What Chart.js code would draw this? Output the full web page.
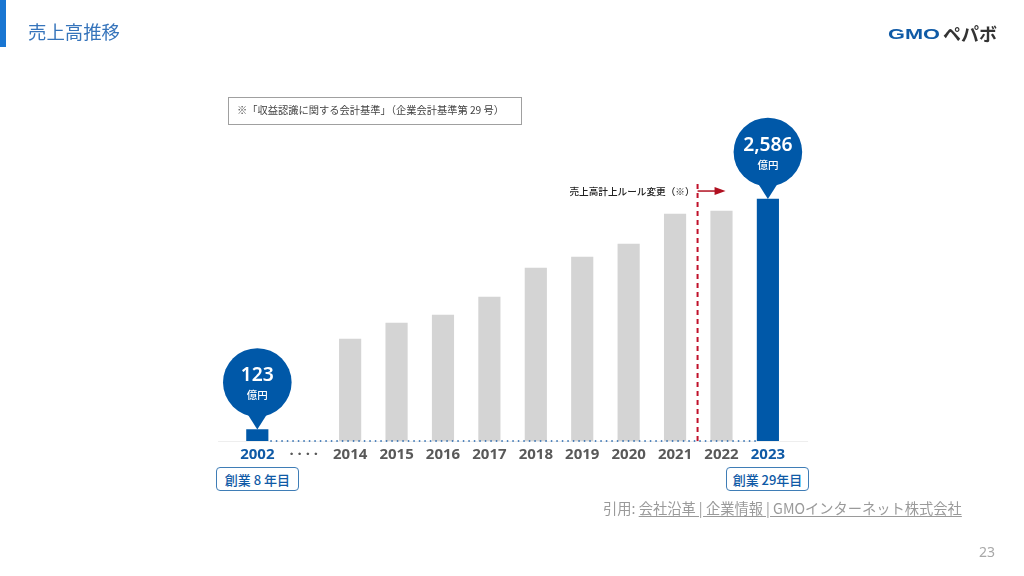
<!DOCTYPE html>
<html lang="ja"><head><meta charset="utf-8">
<script src="https://cdn.jsdelivr.net/npm/chart.js@4"></script>
<style>
html,body{margin:0;padding:0;background:#fff;width:1024px;height:576px;overflow:hidden;font-family:"Noto Sans CJK JP","Noto Sans",sans-serif}
canvas{position:absolute;left:0;top:0}
.t{position:absolute;white-space:nowrap;line-height:1}
#acc{position:absolute;left:0;top:0;width:6px;height:47px;background:#1976d2}
#title{left:28px;top:22px;font-size:18.4px;color:#3674bb;font-weight:400}
#logoA{left:888px;top:26px;font-size:15px;font-weight:700;color:#0f5aa6;font-family:"Liberation Sans";transform-origin:left top;transform:scaleX(1.45)}
#logoB{left:943px;top:24px;font-size:18px;font-weight:700;color:#333;transform-origin:left top}
#note{position:absolute;left:228px;top:97px;width:292px;height:26px;border:1px solid #a0a0a0}
#noteT{left:237px;top:105px;font-size:10.25px;color:#444}
.yr{position:absolute;height:22px;width:81px;border:1.5px solid #3f7db6;border-radius:4px;top:467px;color:#0f5aa6;font-size:13px;line-height:23px;text-align:center;background:#fff;font-weight:500}
#cite{left:603px;top:501px;font-size:14.25px;color:#9a9a9a}
#cite u{text-decoration:underline;text-underline-offset:2px}
#pg{left:979px;top:545px;font-size:14px;color:#a8a8a8;font-family:"Noto Sans"}
</style></head><body>
<canvas id="c" width="1024" height="576" style="width:1024px;height:576px"></canvas>
<div id="acc"></div>
<div class="t" id="title">売上高推移</div>
<div class="t" id="logoA">GMO</div><div class="t" id="logoB">ペパボ</div>
<div id="note"></div>
<div class="t" id="noteT">※「収益認識に関する会計基準」（企業会計基準第 29 号）</div>
<div class="yr" style="left:216px">創業 8 年目</div>
<div class="yr" style="left:726px">創業 29年目</div>
<div class="t" id="cite">引用: <u>会社沿革 | 企業情報 | GMOインターネット株式会社</u></div>
<div class="t" id="pg">23</div>
<script>
const categories = ['2002','· · · ·','2014','2015','2016','2017','2018','2019','2020','2021','2022','2023'];
const sales = [123,null,1090,1261,1346,1539,1849,1966,2105,2426,2458,2586];
const barColors = ['#0058a8','#d4d4d4','#d4d4d4','#d4d4d4','#d4d4d4','#d4d4d4','#d4d4d4','#d4d4d4','#d4d4d4','#d4d4d4','#d4d4d4','#0058a8'];
const tickColors = ['#0f5aa6','#595959','#595959','#595959','#595959','#595959','#595959','#595959','#595959','#595959','#595959','#0f5aa6'];
const pinIdx = [0,11];
const pinUnit = '億円';
const ruleText = '売上高計上ルール変更（※）';

const overlay = {
  id:'overlay',
  beforeDatasetsDraw(ch){
    const {ctx,scales:{x,y}} = ch;
    const y0 = y.getPixelForValue(0);
    ctx.save();
    ctx.strokeStyle='#eeeeee';ctx.lineWidth=1;
    ctx.beginPath();ctx.moveTo(x.left-16,y0+.5);ctx.lineTo(x.right+17,y0+.5);ctx.stroke();
    ctx.restore();
  },
  afterDatasetsDraw(ch){
    const {ctx,scales:{x,y}} = ch;
    const y0 = y.getPixelForValue(0);
    ctx.save();
    ctx.strokeStyle='#1f62aa';ctx.lineWidth=1.5;ctx.setLineDash([1.5,4]);
    ctx.beginPath();ctx.moveTo(x.getPixelForValue(0)+13,y0);ctx.lineTo(x.getPixelForValue(11)-12,y0);ctx.stroke();
    ctx.setLineDash([]);
    const rx=(x.getPixelForValue(9)+x.getPixelForValue(10))/2-0.7;
    const ry=y.getPixelForValue(sales[11])-8;
    ctx.strokeStyle='#c0102a';ctx.lineWidth=2;ctx.setLineDash([5,4]);
    ctx.beginPath();ctx.moveTo(rx,y.getPixelForValue(sales[11])-15);ctx.lineTo(rx,y0);ctx.stroke();
    ctx.setLineDash([]);
    ctx.lineWidth=1.5;ctx.strokeStyle='#b01020';ctx.fillStyle='#b01020';
    ctx.beginPath();ctx.moveTo(rx,ry);ctx.lineTo(rx+18,ry);ctx.stroke();
    ctx.beginPath();ctx.moveTo(rx+28,ry);ctx.lineTo(rx+17,ry-4);ctx.lineTo(rx+17,ry+4);ctx.closePath();ctx.fill();
    ctx.fillStyle='#222';ctx.font='500 9.65px "Noto Sans CJK JP"';ctx.textAlign='right';ctx.textBaseline='middle';
    ctx.fillText(ruleText,rx-3,ry+.5);
    pinIdx.forEach(i=>{
      const px=x.getPixelForValue(i), top=y.getPixelForValue(sales[i]);
      const cy=top-47, r=34.3;
      ctx.fillStyle='#0058a8';
      ctx.beginPath();ctx.arc(px,cy,r,0,Math.PI*2);ctx.fill();
      ctx.beginPath();ctx.moveTo(px-10,cy+r-3);ctx.lineTo(px,top);ctx.lineTo(px+10,cy+r-3);ctx.closePath();ctx.fill();
      ctx.fillStyle='#fff';ctx.textAlign='center';ctx.textBaseline='middle';
      ctx.font='600 19.3px "Noto Sans"';
      ctx.fillText(sales[i].toLocaleString('en-US'),px,cy-6.5);
      ctx.font='500 10.5px "Noto Sans CJK JP"';
      ctx.fillText(pinUnit,px,cy+13);
    });
    ctx.restore();
  }
};

new Chart(document.getElementById('c'),{
  type:'bar',
  data:{labels:categories,datasets:[{data:sales,backgroundColor:barColors,barThickness:21.5}]},
  plugins:[overlay],
  options:{
    responsive:false,animation:false,devicePixelRatio:1,
    layout:{padding:{left:234.1,right:232.9,top:160.3,bottom:0}},
    plugins:{legend:{display:false},tooltip:{enabled:false},title:{display:false}},
    scales:{
      y:{display:false,min:0,max:3000},
      x:{
        afterFit(s){s.height=135;},
        grid:{display:false,drawTicks:false},border:{display:false},
        ticks:{autoSkip:false,maxRotation:0,minRotation:0,padding:4.5,
          font:{family:'"Noto Sans"',size:15,weight:'bold'},
          color:c=>tickColors[c.index]}
      }
    }
  }
});
</script>
</body></html>
